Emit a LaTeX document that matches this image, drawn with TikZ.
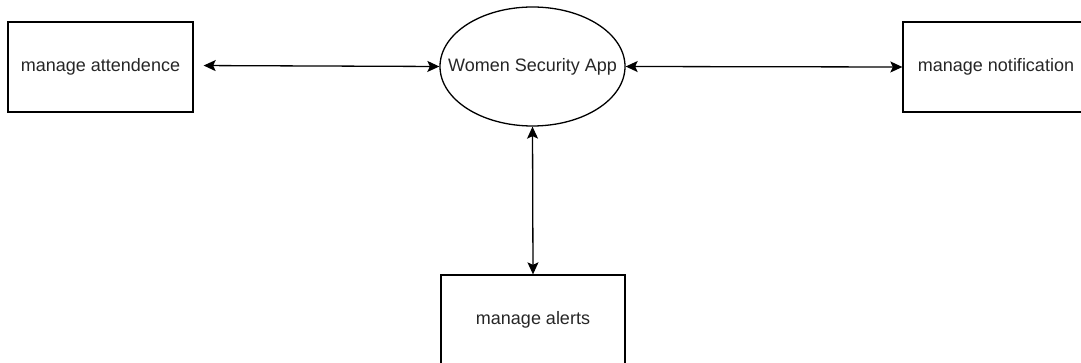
\documentclass[tikz,border=0pt]{standalone}
\usepackage{fontspec}
\setmainfont{Liberation Sans}
\usetikzlibrary{arrows.meta,shapes.geometric}
\begin{document}
\begin{tikzpicture}[x=1pt,y=-1pt,
  lbl/.style={text=black!85, font=\fontsize{18}{21}\selectfont},
  box/.style={draw=black, line width=1.3pt, rectangle, inner sep=0pt, lbl},
  appnode/.style={draw=black, line width=1.3pt, ellipse, inner sep=0pt,
    minimum width=185pt, minimum height=119pt},
  link/.style={line width=1.3pt, {Stealth[length=12pt,width=11pt,inset=2.5pt]}-{Stealth[length=12pt,width=11pt,inset=2.5pt]}}
]
\useasboundingbox (0,0) rectangle (1081,363);
\clip (0,0) rectangle (1081,363);
\node[box, minimum width=185pt, minimum height=90pt] (att) at (100.5,67) {manage attendence};
\node[appnode, label={[lbl]center:Women Security App}] (app) at (532.5,66.5) {};
\node[box, minimum width=186pt, minimum height=90pt] (notif) at (996,67) {manage notification};
\node[box, minimum width=184pt, minimum height=90pt] (alerts) at (533,320) {manage alerts};
\draw[link, shorten <=10pt] ([yshift=1.5pt]att.east) -- (app.west);
\draw[link] (app.east) -- (notif.west);
\draw[link] (app.south) -- (alerts.north);
\end{tikzpicture}
\end{document}
